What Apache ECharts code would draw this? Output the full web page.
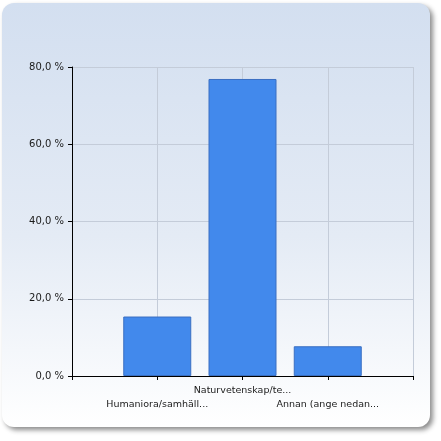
<!DOCTYPE html>
<html>
<head>
<meta charset="utf-8">
<script src="https://cdn.jsdelivr.net/npm/echarts@6/dist/echarts.min.js"></script>
<style>
  html, body { margin: 0; padding: 0; background: #ffffff; }
  #chart { width: 441px; height: 441px; }
</style>
</head>
<body>
<div id="chart"></div>
<script>
  // category slots: empty ends so the bars sit on the inner ticks
  var categories = ['', 'Humaniora/samhäll...', 'Naturvetenskap/te...', 'Annan (ange nedan...', ''];
  var shares = [null, 15.4, 76.9, 7.7, null];
  var yTicks = [0, 20, 40, 60, 80];

  var FONT = 'DejaVu Sans';
  var chart = echarts.init(document.getElementById('chart'), null, { renderer: 'canvas' });

  function pctLabel(v) { return v.toFixed(1).replace('.', ',') + ' %'; }

  chart.setOption({
    animation: false,
    backgroundColor: '#ffffff',
    graphic: [{
      type: 'rect',
      z: -10,
      silent: true,
      shape: { x: 2, y: 3, width: 428, height: 424, r: 12 },
      style: {
        fill: new echarts.graphic.LinearGradient(0, 0, 0, 1, [
          { offset: 0, color: '#d3dff0' },
          { offset: 0.55, color: '#e4ebf5' },
          { offset: 1, color: '#ffffff' }
        ]),
        shadowColor: 'rgba(0,0,0,0.45)',
        shadowBlur: 5,
        shadowOffsetX: 3,
        shadowOffsetY: 3
      }
    }],
    grid: { left: 72, right: 28, top: 67, bottom: 65, containLabel: false },
    xAxis: {
      type: 'category',
      data: categories,
      boundaryGap: false,
      axisLine: { lineStyle: { color: '#000000', width: 1 } },
      axisTick: { show: true, length: 4, interval: 0, lineStyle: { color: '#000000' } },
      splitLine: { show: true, interval: 0, lineStyle: { color: '#c4ccd9', width: 1 } },
      axisLabel: {
        interval: 0,
        margin: 8,
        color: '#1a1a1a',
        fontFamily: FONT,
        fontSize: 9.5,
        lineHeight: 14,
        formatter: function (v, i) { return i === 2 ? v : '\n' + v; }
      }
    },
    yAxis: {
      type: 'value',
      min: yTicks[0],
      max: yTicks[yTicks.length - 1],
      interval: 20,
      axisLine: { show: true, lineStyle: { color: '#000000', width: 1 } },
      axisTick: { show: true, length: 4, lineStyle: { color: '#000000' } },
      splitLine: { lineStyle: { color: '#c4ccd9', width: 1 } },
      axisLabel: {
        color: '#1a1a1a',
        fontFamily: FONT,
        fontSize: 10,
        margin: 8,
        formatter: pctLabel
      }
    },
    series: [{
      type: 'bar',
      data: shares,
      barWidth: 68,
      itemStyle: { color: '#4289ec', borderColor: '#3a6fc2', borderWidth: 1 }
    }]
  });
</script>
</body>
</html>
